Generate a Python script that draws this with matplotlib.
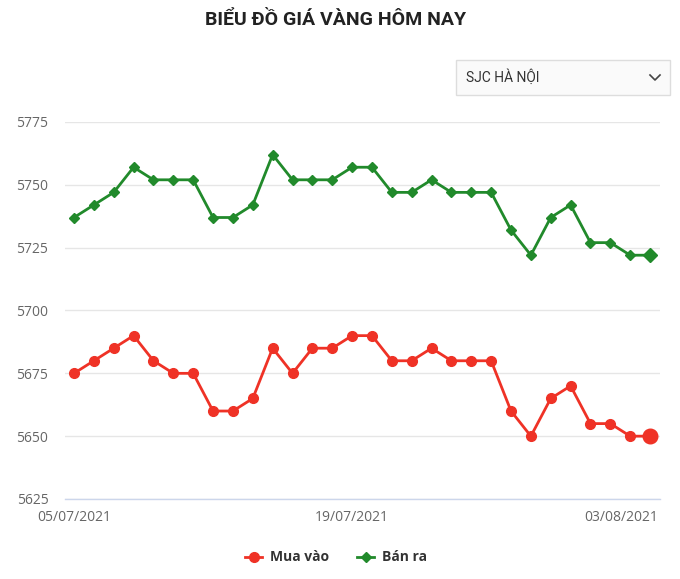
import matplotlib
matplotlib.use("Agg")
import matplotlib.pyplot as plt
from matplotlib.patches import FancyBboxPatch
import matplotlib.transforms as mtransforms

dates = ["05/07/2021", "06/07/2021", "07/07/2021", "08/07/2021", "09/07/2021", "10/07/2021",
         "11/07/2021", "12/07/2021", "13/07/2021", "14/07/2021", "15/07/2021", "16/07/2021",
         "17/07/2021", "18/07/2021", "19/07/2021", "20/07/2021", "21/07/2021", "22/07/2021",
         "23/07/2021", "24/07/2021", "25/07/2021", "26/07/2021", "27/07/2021", "28/07/2021",
         "29/07/2021", "30/07/2021", "31/07/2021", "01/08/2021", "02/08/2021", "03/08/2021"]
mua_vao = [5675, 5680, 5685, 5690, 5680, 5675, 5675, 5660, 5660, 5665, 5685, 5675, 5685, 5685, 5690,
           5690, 5680, 5680, 5685, 5680, 5680, 5680, 5660, 5650, 5665, 5670, 5655, 5655, 5650, 5650]
ban_ra = [5737, 5742, 5747, 5757, 5752, 5752, 5752, 5737, 5737, 5742, 5762, 5752, 5752, 5752, 5757,
          5757, 5747, 5747, 5752, 5747, 5747, 5747, 5732, 5722, 5737, 5742, 5727, 5727, 5722, 5722]
y_ticks = [5625, 5650, 5675, 5700, 5725, 5750, 5775]
x_tick_idx = [0, 14, 29]

title = "BIỂU ĐỒ GIÁ VÀNG HÔM NAY"
dropdown = "SJC HÀ NỘI"
series_names = ["Mua vào", "Bán ra"]

RED = "#ef3226"
GREEN = "#218a2b"

fig = plt.figure(figsize=(6.8, 5.79), dpi=100)
W, H = 680, 579
ax = fig.add_axes([65 / W, (H - 499) / H, (660 - 65) / W, (499 - 122) / H])

x = list(range(len(dates)))
ax.plot(x, mua_vao, color=RED, lw=2, marker="o", ms=7, zorder=3)
ax.plot(x, ban_ra, color=GREEN, lw=2, marker="D", ms=5, zorder=3)
# hover-state enlarged last points
ax.plot([x[-1]], [mua_vao[-1]], color=RED, marker="o", ms=10.5, zorder=4, ls="none")
ax.plot([x[-1]], [ban_ra[-1]], color=GREEN, marker="D", ms=7, zorder=4, ls="none")

ax.set_ylim(y_ticks[0], y_ticks[-1])
ax.set_xlim(-0.453, 29.5)
ax.set_yticks(y_ticks)
ax.set_yticklabels([str(v) for v in y_ticks])
for s in ["top", "right", "left"]:
    ax.spines[s].set_visible(False)
ax.spines["bottom"].set_color("#ccd6eb")
ax.spines["bottom"].set_linewidth(1)
ax.grid(axis="y", color="#e6e6e6", lw=1)
ax.set_axisbelow(True)
ax.tick_params(axis="y", length=0, pad=12, labelsize=10, labelcolor="#666666")
ax.tick_params(axis="x", length=0, pad=8, labelsize=10, labelcolor="#666666")
for lab in ax.get_yticklabels():
    lab.set_fontfamily("Open Sans")

ax.set_xticks(x_tick_idx)
ax.set_xticklabels([dates[i] for i in x_tick_idx], fontfamily="Open Sans")
labs = ax.get_xticklabels()
labs[-1].set_horizontalalignment("right")
labs[-1].set_transform(labs[-1].get_transform() + mtransforms.ScaledTranslation(8 / 100, 0, fig.dpi_scale_trans))

fig.text(336 / W, 1 - 20 / H, title, ha="center", va="center", fontsize=14,
         fontweight="bold", fontfamily="Roboto", color="#222222", fontstretch="condensed")

# dropdown box
box = FancyBboxPatch((456 / W, 1 - 95 / H), (670 - 456) / W, (95 - 60) / H,
                     boxstyle="square,pad=0", transform=fig.transFigure,
                     facecolor="#fafafa", edgecolor="#dddddd", lw=1)
fig.add_artist(box)
fig.text(466 / W, 1 - 77 / H, dropdown, ha="left", va="center", fontsize=10,
         fontfamily="Roboto", color="#333333")
fig.lines.append(plt.Line2D([650 / W, 655 / W, 660 / W], [1 - 75 / H, 1 - 80 / H, 1 - 75 / H],
                            transform=fig.transFigure, color="#444444", lw=1.2))

# legend
ly = 1 - 557 / H
fig.lines.append(plt.Line2D([245 / W, 262 / W], [ly, ly], transform=fig.transFigure, color=RED, lw=2))
fig.lines.append(plt.Line2D([253.5 / W], [ly], transform=fig.transFigure, color=RED, marker="o", ms=7))
fig.text(270 / W, ly, series_names[0], ha="left", va="center", fontsize=10, fontweight="bold",
         fontfamily="Open Sans", color="#333333")
fig.lines.append(plt.Line2D([357 / W, 374 / W], [ly, ly], transform=fig.transFigure, color=GREEN, lw=2))
fig.lines.append(plt.Line2D([365.5 / W], [ly], transform=fig.transFigure, color=GREEN, marker="D", ms=5))
fig.text(382 / W, ly, series_names[1], ha="left", va="center", fontsize=10, fontweight="bold",
         fontfamily="Open Sans", color="#333333")

fig.savefig("out.png", dpi=100)
